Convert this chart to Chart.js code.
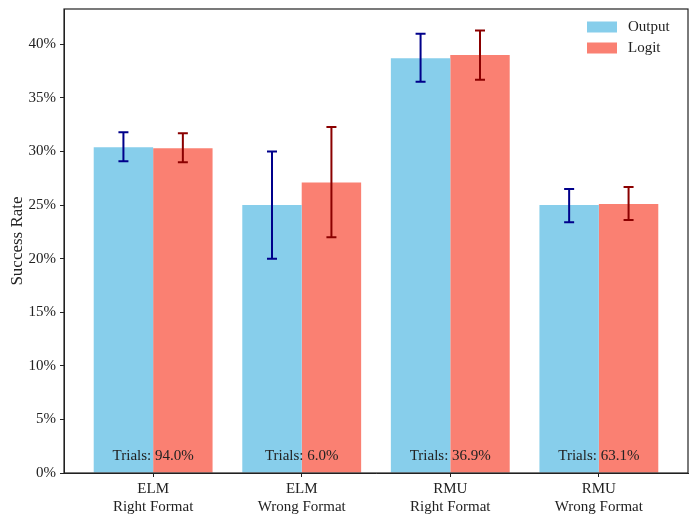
<!DOCTYPE html>
<html>
<head>
<meta charset="utf-8">
<script src="https://cdn.jsdelivr.net/npm/chart.js@4.4.1/dist/chart.umd.min.js"></script>
<style>
  html, body { margin: 0; padding: 0; background: #fff; }
  #wrap { width: 698px; height: 520px; }
</style>
</head>
<body>
<div id="wrap"><canvas id="myChart"></canvas></div>
<script>
// data
const categories = [["ELM", "Right Format"], ["ELM", "Wrong Format"], ["RMU", "Right Format"], ["RMU", "Wrong Format"]];
const outputRate = [30.4, 25.0, 38.7, 25.0];
const outputLow = [29.1, 20.0, 36.5, 23.4];
const outputHigh = [31.8, 30.0, 41.0, 26.5];
const logitRate = [30.3, 27.1, 39.0, 25.1];
const logitLow = [29.0, 22.0, 36.7, 23.6];
const logitHigh = [31.7, 32.3, 41.3, 26.7];
const trials = ["94.0%", "6.0%", "36.9%", "63.1%"];
const yTicks = [0, 5, 10, 15, 20, 25, 30, 35, 40];

const FONT = "'Liberation Serif', 'DejaVu Serif', serif";
Chart.defaults.font.family = FONT;
Chart.defaults.color = "#222";

// error bars, trial labels, frame and legend
const extras = {
  id: "extras",
  afterDatasetsDraw(chart) {
    const c = chart.ctx;
    const y = chart.scales.y;
    const x = chart.scales.x;
    const area = chart.chartArea;
    const errs = [[outputLow, outputHigh, "#00008B"], [logitLow, logitHigh, "#8B0000"]];
    errs.forEach(([lo, hi, col], di) => {
      const meta = chart.getDatasetMeta(di);
      meta.data.forEach((bar, j) => {
        const y1 = y.getPixelForValue(lo[j]);
        const y2 = y.getPixelForValue(hi[j]);
        c.save();
        c.strokeStyle = col;
        c.lineWidth = 2;
        c.beginPath();
        c.moveTo(bar.x, y1); c.lineTo(bar.x, y2);
        c.moveTo(bar.x - 5, y1); c.lineTo(bar.x + 5, y1);
        c.moveTo(bar.x - 5, y2); c.lineTo(bar.x + 5, y2);
        c.stroke();
        c.restore();
      });
    });

    c.save();
    c.font = "15px " + FONT;
    c.fillStyle = "#222";
    c.textAlign = "center";
    c.textBaseline = "middle";
    trials.forEach((t, j) => {
      c.fillText("Trials: " + t, x.getPixelForValue(j), area.bottom - 17);
    });
    c.restore();

    // frame
    c.save();
    c.strokeStyle = "#222";
    c.lineWidth = 1.2;
    c.strokeRect(area.left, area.top, area.right - area.left, area.bottom - area.top);
    c.restore();

    // legend
    c.save();
    c.font = "15px " + FONT;
    c.textBaseline = "middle";
    chart.data.datasets.forEach((ds, i) => {
      const ly = area.top + 18 + i * 21;
      c.fillStyle = ds.backgroundColor;
      c.fillRect(587, ly - 5.5, 30, 11);
      c.fillStyle = "#222";
      c.fillText(ds.label, 628, ly);
    });
    c.restore();
  },
};

const ctx = document.getElementById("myChart").getContext("2d");
const myChart = new Chart(ctx, {
  type: "bar",
  data: {
    datasets: [
      {
        label: "Output",
        data: outputRate.map((v, i) => ({ x: i, y: v })),
        backgroundColor: "#87CEEB",
        borderWidth: 0,
        categoryPercentage: 0.8,
        barPercentage: 1.0,
      },
      {
        label: "Logit",
        data: logitRate.map((v, i) => ({ x: i, y: v })),
        backgroundColor: "#FA8072",
        borderWidth: 0,
        categoryPercentage: 0.8,
        barPercentage: 1.0,
      },
    ],
  },
  options: {
    responsive: true,
    maintainAspectRatio: false,
    animation: false,
    layout: { padding: { left: 0, right: 10, top: 9, bottom: 0 } },
    plugins: {
      legend: { display: false },
      tooltip: { enabled: false },
    },
    scales: {
      x: {
        type: "linear",
        min: -0.6,
        max: 3.6,
        offset: false,
        grid: { offset: false, drawOnChartArea: false, drawTicks: true, tickLength: 4, color: "#222" },
        border: { display: true, color: "#222" },
        afterBuildTicks: (scale) => {
          scale.ticks = categories.map((c, i) => ({ value: i }));
        },
        ticks: {
          font: { size: 15 },
          padding: 3,
          maxRotation: 0,
          autoSkip: false,
          callback: (v) => categories[v],
        },
        afterFit: (scale) => {
          scale.height = 47;
          scale.paddingLeft = 0;
          scale.paddingRight = 0;
        },
      },
      y: {
        min: 0,
        max: 43.3,
        grid: { drawOnChartArea: false, drawTicks: true, tickLength: 4, color: "#222" },
        border: { display: true, color: "#222" },
        afterBuildTicks: (scale) => {
          scale.ticks = yTicks.map((v) => ({ value: v }));
        },
        ticks: {
          font: { size: 15 },
          padding: 4,
          callback: (v) => v + "%",
        },
        title: {
          display: true,
          text: "Success Rate",
          font: { size: 17 },
          padding: { top: 7, bottom: 0 },
        },
        afterFit: (scale) => {
          scale.width = 64;
          scale.paddingTop = 0;
          scale.paddingBottom = 0;
        },
      },
    },
  },
  plugins: [extras],
});
</script>
</body>
</html>
